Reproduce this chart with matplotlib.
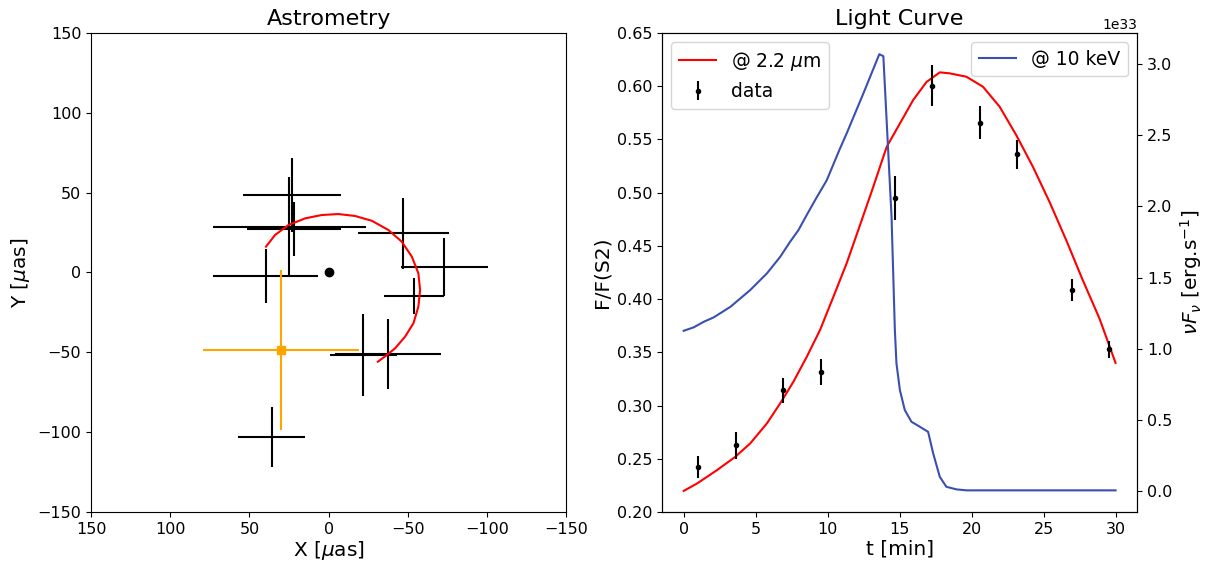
import matplotlib
matplotlib.use('Agg')
import matplotlib.pyplot as plt

# astrometry: data crosses (x, y, xerr, yerr) in uas
ast_x = [23.2, 24.8, 22.0, 39.8, -47.3, -73.0, -54.0, -22.0, -37.6, 35.9]
ast_y = [48.5, 28.7, 27.2, -2.2, 24.5, 3.6, -14.7, -51.7, -51.2, -103.0]
ast_xerr = [31.0, 48.5, 29.8, 33.4, 28.5, 27.4, 19.0, 21.0, 33.7, 21.0]
ast_yerr = [23.0, 31.0, 16.7, 16.7, 22.2, 18.3, 11.0, 25.8, 21.9, 18.7]

# orange reference point
ref_x, ref_y, ref_xerr, ref_yerr = 30.0, -48.5, 49.0, 50.0

# red model orbit
orb_x = [39.5, 33.8, 25.4, 14.8, 4.3, -6.2, -16.7, -27.3, -37.8, -46.2, -52.6,
         -56.7, -57.8, -56.7, -53.6, -48.3, -42.0, -36.8, -31.1]
orb_y = [16.2, 23.5, 29.7, 33.9, 36.0, 36.6, 35.4, 32.4, 26.6, 19.3, 9.9,
         -0.5, -11.0, -21.4, -31.8, -40.2, -47.5, -51.7, -55.9]

# light curve at 2.2 um
lc_t = [0.0, 0.93, 2.31, 3.58, 4.62, 5.78, 6.7, 7.62, 8.55, 9.47, 10.4, 11.32,
        12.13, 13.17, 14.1, 15.02, 15.94, 16.87, 17.79, 18.48, 19.64, 20.79,
        21.95, 23.1, 24.26, 25.41, 26.57, 27.72, 28.88, 30.0]
lc_f = [0.2198, 0.2268, 0.2393, 0.2518, 0.2644, 0.2832, 0.302, 0.3223, 0.3458,
        0.3709, 0.4022, 0.4336, 0.4649, 0.5055, 0.543, 0.565, 0.587, 0.604,
        0.613, 0.6121, 0.6089, 0.5995, 0.5807, 0.5541, 0.5243, 0.4914, 0.4555,
        0.4179, 0.3819, 0.3401]

# data points
d_t = [1.0, 3.6, 6.93, 9.52, 14.65, 17.22, 20.61, 23.17, 26.96, 29.55]
d_f = [0.2424, 0.2625, 0.3142, 0.3317, 0.4952, 0.6005, 0.5657, 0.536, 0.4085, 0.3527]
d_err = [0.0102, 0.0125, 0.0118, 0.012, 0.0207, 0.0194, 0.0155, 0.0136, 0.0107, 0.0078]

# 10 keV curve, units of 1e33 erg/s
x_t = [0.0, 0.69, 1.39, 2.08, 3.24, 4.62, 5.78, 6.7, 7.39, 7.97, 8.54, 9.13,
       9.94, 10.86, 11.32, 12.48, 13.59, 13.87, 14.44, 14.67, 14.78, 15.02,
       15.36, 15.82, 16.4, 16.98, 17.33, 17.79, 18.25, 18.94, 19.65, 30.0]
x_f = [1.126, 1.15, 1.189, 1.22, 1.294, 1.412, 1.529, 1.645, 1.751, 1.833,
       1.938, 2.044, 2.184, 2.407, 2.512, 2.793, 3.069, 3.055, 1.926, 1.131,
       0.897, 0.709, 0.569, 0.487, 0.452, 0.416, 0.265, 0.1, 0.03, 0.012,
       0.005, 0.005]

fig = plt.figure(figsize=(12.06, 5.63), dpi=100)

ax1 = fig.add_axes([0.0755, 0.0906, 0.3939, 0.8508])
ax1.errorbar(ast_x, ast_y, xerr=ast_xerr, yerr=ast_yerr, fmt='none',
             ecolor='k', elinewidth=1.5)
ax1.errorbar([ref_x], [ref_y], xerr=[ref_xerr], yerr=[ref_yerr], fmt='s',
             color='orange', ms=6, elinewidth=1.5)
ax1.plot(orb_x, orb_y, color='red', lw=1.5)
ax1.plot([0], [0], 'ko', ms=6)
ax1.set_xlim(150, -150)
ax1.set_ylim(-150, 150)
ax1.set_xlabel(r'X [$\mu$as]', fontsize=14.5, labelpad=2)
ax1.set_ylabel(r'Y [$\mu$as]', fontsize=14.5)
ax1.set_title('Astrometry', fontsize=16)
ax1.tick_params(labelsize=11.5)

ax2 = fig.add_axes([0.549, 0.0906, 0.3939, 0.8508])
ax2.plot(lc_t, lc_f, color='red', lw=1.5, label=r'@ 2.2 $\mu$m')
ax2.errorbar(d_t, d_f, yerr=d_err, fmt='k.', elinewidth=1.5, ms=6, label='data')
ax2.set_ylim(0.2, 0.65)
ax2.set_xlabel('t [min]', fontsize=14.5, labelpad=2)
ax2.set_ylabel('F/F(S2)', fontsize=14.5)
ax2.set_title('Light Curve', fontsize=16)
ax2.tick_params(labelsize=11.5)
ax2.legend(loc='upper left', fontsize=13.5)

ax3 = ax2.twinx()
ax3.plot(x_t, [v * 1e33 for v in x_f], color='#3a4fb0', lw=1.5, label='@ 10 keV')
ax3.set_ylim(-0.147e33, 3.218e33)
ax3.set_ylabel(r'$\nu F_\nu$ [erg.s$^{-1}$]', fontsize=14.5)
ax3.tick_params(labelsize=11.5)
ax3.legend(loc='upper right', fontsize=13.5)

fig.savefig('out.png', dpi=100)
